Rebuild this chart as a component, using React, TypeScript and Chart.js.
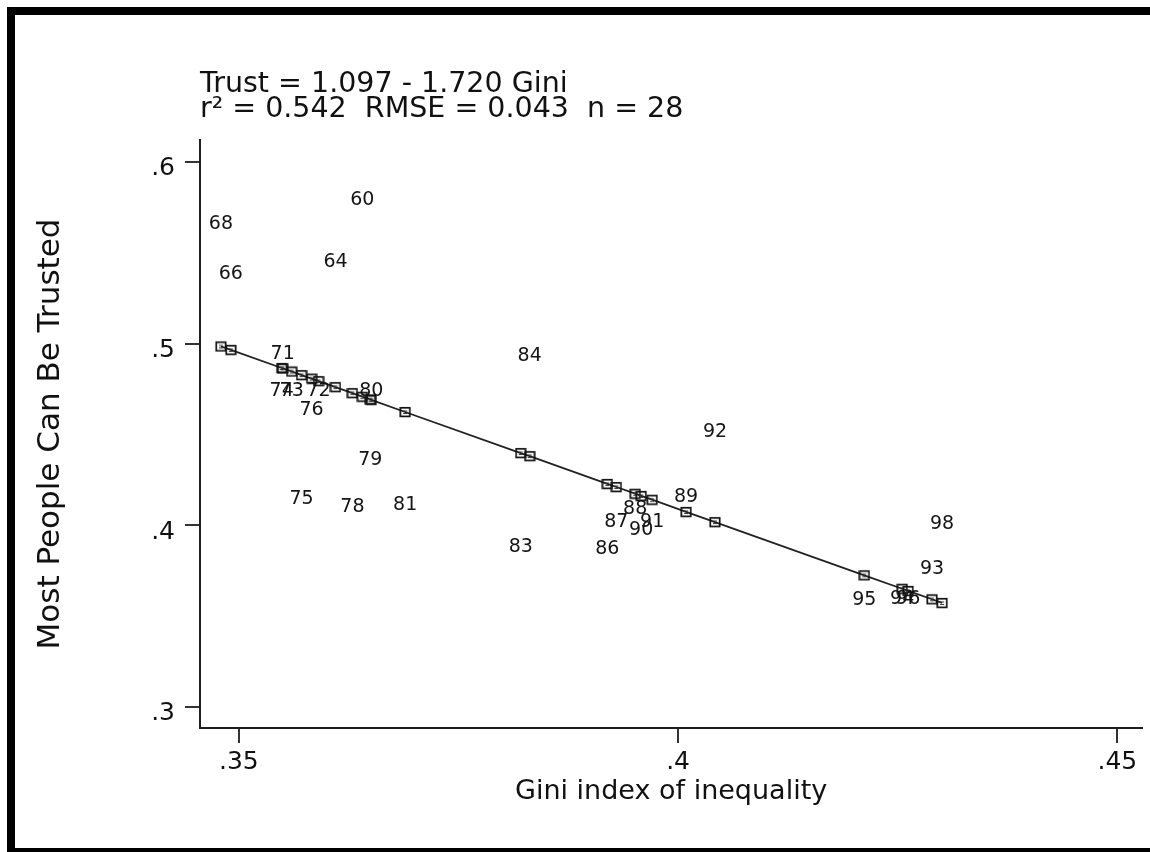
import React, { useEffect, useRef } from 'react';
import { Chart, registerables } from 'chart.js';

Chart.register(...registerables);

// ---- data ----
const years = ['68', '66', '74', '71', '73', '75', '76', '72', '64', '78', '60', '79', '80', '81',
  '83', '84', '86', '87', '88', '90', '91', '89', '92', '95', '94', '96', '93', '98'];

const gini = [0.34796, 0.34909, 0.35488, 0.35499, 0.35601, 0.35714, 0.35828, 0.35907, 0.36100,
  0.36293, 0.36406, 0.36497, 0.36508, 0.36893, 0.38209, 0.38311, 0.39195, 0.39297, 0.39512,
  0.39580, 0.39705, 0.40091, 0.40420, 0.42120, 0.42551, 0.42619, 0.42891, 0.43005];

const trust = [0.5670, 0.5394, 0.4750, 0.4954, 0.4750, 0.4156, 0.4646, 0.4750, 0.5461, 0.4112,
  0.5802, 0.4371, 0.4750, 0.4123, 0.3892, 0.4943, 0.3881, 0.4029, 0.4101, 0.3985, 0.4029,
  0.4167, 0.4525, 0.3600, 0.3606, 0.3606, 0.3771, 0.4018];

const fitted = [0.4985, 0.4966, 0.4866, 0.4864, 0.4847, 0.4827, 0.4808, 0.4794, 0.4761, 0.4728,
  0.4708, 0.4693, 0.4691, 0.4624, 0.4398, 0.4381, 0.4228, 0.4211, 0.4174, 0.4162, 0.4141,
  0.4074, 0.4018, 0.3725, 0.3651, 0.3639, 0.3593, 0.3573];

const xTicks = [0.35, 0.4, 0.45];
const yTicks = [0.3, 0.4, 0.5, 0.6];

const titleLines = ['Trust = 1.097 - 1.720 Gini', 'r\u00B2 = 0.542  RMSE = 0.043  n = 28'];
const xTitle = 'Gini index of inequality';
const yTitle = 'Most People Can Be Trusted';

const FONT = "'DejaVu Sans', 'Liberation Sans', sans-serif";
const fmt = (v: number) => String(v).replace(/^0\./, '.');

function makeSquare(): HTMLCanvasElement {
  const c = document.createElement('canvas');
  c.width = 12;
  c.height = 12;
  const g = c.getContext('2d')!;
  g.strokeStyle = '#111';
  g.lineWidth = 1.7;
  g.strokeRect(1.3, 1.8, 9.4, 8.6);
  g.fillStyle = '#333';
  g.fillRect(4, 4.5, 4, 1);
  g.fillRect(4, 7, 4, 1);
  return c;
}

const yearLabels = {
  id: 'yearLabels',
  afterDatasetsDraw(chart: any) {
    const meta = chart.getDatasetMeta(1);
    const ctx = chart.ctx;
    const size = 19;
    ctx.save();
    ctx.font = `${size}px ${FONT}`;
    ctx.fillStyle = '#141414';
    ctx.textAlign = 'center';
    ctx.textBaseline = 'alphabetic';
    meta.data.forEach((pt: any, i: number) => {
      ctx.fillText(years[i], pt.x, pt.y + 0.3645 * size);
    });
    ctx.restore();
  },
};

const frame = {
  id: 'frame',
  afterDraw(chart: any) {
    const ctx = chart.ctx;
    ctx.save();
    ctx.fillStyle = '#000';
    ctx.fillRect(7, 7, 8, 852);
    ctx.fillRect(7, 7, 1150, 8);
    ctx.fillRect(7, 848, 1150, 6);
    ctx.restore();
  },
};

export default function App() {
  const ref = useRef<HTMLCanvasElement | null>(null);

  useEffect(() => {
    if (!ref.current) return;
    const square = makeSquare();
    const axisGrid = {
      drawOnChartArea: false,
      drawTicks: true,
      tickLength: 15,
      color: '#333',
      lineWidth: 2,
    };
    const axisBorder = { display: true, color: '#1e1e1e', width: 2 };
    const chart = new Chart(ref.current, {
      type: 'scatter',
      data: {
        datasets: [
          {
            label: 'Fitted',
            data: gini.map((g, i) => ({ x: g, y: fitted[i] })),
            showLine: true,
            borderColor: '#222',
            borderWidth: 1.8,
            pointStyle: square as any,
            pointRadius: 6,
          },
          {
            label: 'Observed',
            data: gini.map((g, i) => ({ x: g, y: trust[i] })),
            showLine: false,
            pointRadius: 0,
            pointHoverRadius: 0,
          },
        ],
      },
      options: {
        responsive: false,
        animation: false,
        devicePixelRatio: 1,
        events: [],
        layout: { padding: { left: 0, top: 0, right: 5, bottom: 0 } },
        plugins: {
          legend: { display: false },
          tooltip: { enabled: false },
          title: {
            display: true,
            text: titleLines,
            align: 'start',
            fullSize: false,
            color: '#111',
            font: { family: FONT, size: 28.5, weight: 'normal', lineHeight: '25px' },
            padding: { top: 72, bottom: 18 },
          },
        },
        scales: {
          x: {
            type: 'linear',
            min: 0.34558,
            max: 0.45283,
            afterBuildTicks: (s: any) => {
              s.ticks = xTicks.map((v) => ({ value: v }));
            },
            afterFit: (s: any) => {
              s.height = 124;
            },
            grid: axisGrid,
            border: axisBorder,
            ticks: {
              autoSkip: false,
              maxRotation: 0,
              padding: 4,
              color: '#111',
              font: { family: FONT, size: 25, weight: 'normal' },
              callback: (v: any) => fmt(Number(v)),
            },
            title: {
              display: true,
              text: xTitle,
              color: '#111',
              font: { family: FONT, size: 27, weight: 'normal' },
              padding: { top: 0, bottom: 44 },
            },
          },
          y: {
            type: 'linear',
            min: 0.28844,
            max: 0.61211,
            afterBuildTicks: (s: any) => {
              s.ticks = yTicks.map((v) => ({ value: v }));
            },
            afterFit: (s: any) => {
              s.width = 200;
            },
            grid: axisGrid,
            border: axisBorder,
            ticks: {
              autoSkip: false,
              padding: 10,
              labelOffset: 7,
              color: '#111',
              font: { family: FONT, size: 25, weight: 'normal' },
              callback: (v: any) => fmt(Number(v)),
            },
            title: {
              display: true,
              text: yTitle,
              color: '#111',
              font: { family: FONT, size: 31, weight: 'normal' },
              padding: { top: 32, bottom: 0 },
            },
          },
        },
      } as any,
      plugins: [yearLabels, frame],
    });
    return () => chart.destroy();
  }, []);

  return (
    <div style={{ position: 'fixed', left: 0, top: 0, width: 1150, height: 852, background: '#fff' }}>
      <canvas ref={ref} width={1150} height={852} style={{ display: 'block' }} />
    </div>
  );
}
